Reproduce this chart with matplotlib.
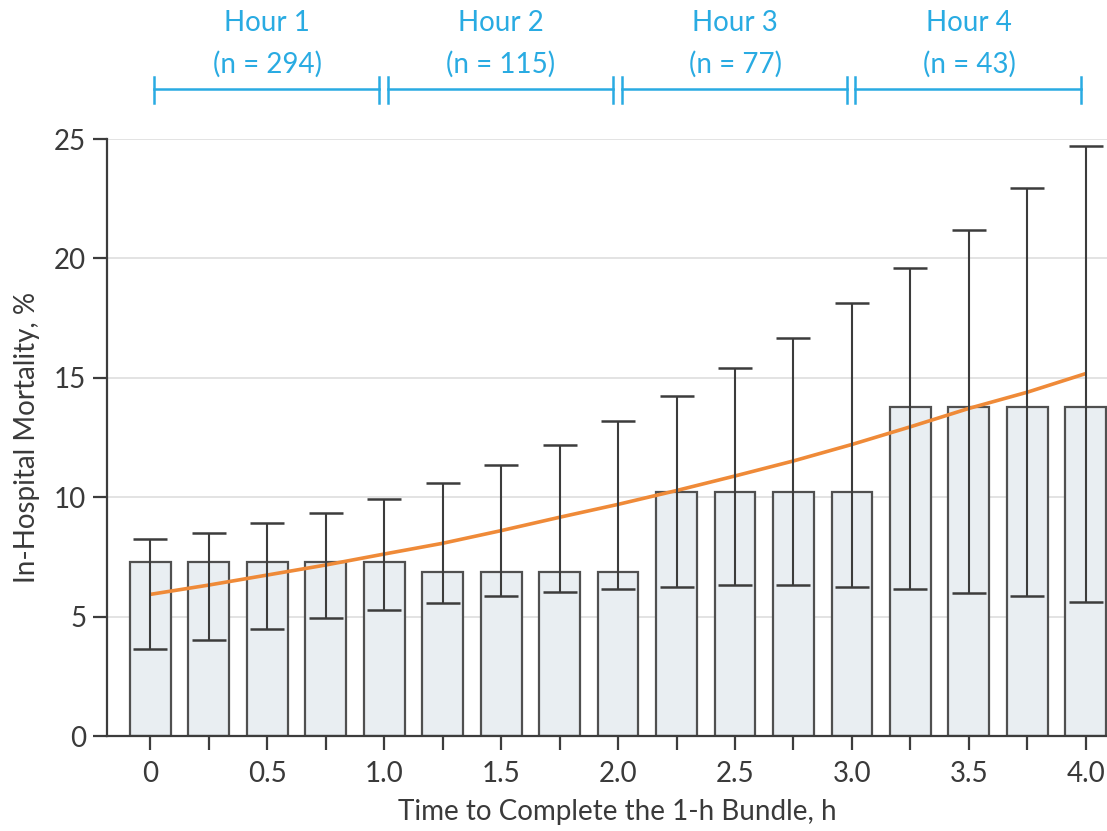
import matplotlib
matplotlib.use('Agg')
import matplotlib.pyplot as plt
import matplotlib.transforms as mtransforms
import numpy as np

plt.rcParams['font.family'] = ['Lato', 'DejaVu Sans']

# время выполнения пакета, ч
hours = [0, 0.25, 0.5, 0.75, 1.0, 1.25, 1.5, 1.75, 2.0,
         2.25, 2.5, 2.75, 3.0, 3.25, 3.5, 3.75, 4.0]
mortality = [7.3, 7.3, 7.3, 7.3, 7.3, 6.85, 6.85, 6.85, 6.85,
             10.22, 10.22, 10.22, 10.22, 13.79, 13.79, 13.79, 13.79]
fit = [5.93, 6.32, 6.74, 7.16, 7.62, 8.07, 8.6, 9.16, 9.7,
       10.28, 10.89, 11.52, 12.21, 12.95, 13.72, 14.4, 15.18]
ci_low = [3.65, 4.03, 4.49, 4.95, 5.28, 5.57, 5.88, 6.03, 6.17,
          6.25, 6.32, 6.32, 6.25, 6.17, 6.0, 5.88, 5.63]
ci_high = [8.23, 8.52, 8.9, 9.36, 9.92, 10.59, 11.35, 12.2, 13.18,
           14.25, 15.4, 16.68, 18.14, 19.59, 21.19, 22.94, 24.71]

hour_labels = ['Hour 1', 'Hour 2', 'Hour 3', 'Hour 4']
hour_n = [294, 115, 77, 43]

x_ticks = [0, 0.5, 1.0, 1.5, 2.0, 2.5, 3.0, 3.5, 4.0]
x_tick_labels = ['0', '0.5', '1.0', '1.5', '2.0', '2.5', '3.0', '3.5', '4.0']
y_ticks = [0, 5, 10, 15, 20, 25]

text_col = '#3a3a3a'
blue = '#29abe2'

fig = plt.figure(figsize=(11.07, 8.31), dpi=100)
ax = fig.add_axes([0.0967, 0.1143, 0.9033, 0.7184])

# сетка
for y in y_ticks[1:]:
    ax.axhline(y, color='#dedede', lw=1.2, zorder=0)

ax.bar(hours, mortality, width=0.175, color='#e9eef2', edgecolor='#505050',
       linewidth=1.6, zorder=2)

ax.plot(hours, fit, color='#ef8a38', lw=2.6, zorder=3, solid_capstyle='butt')

fit_a = np.array(fit)
yerr = [fit_a - np.array(ci_low), np.array(ci_high) - fit_a]
ax.errorbar(hours, fit, yerr=yerr, fmt='none', ecolor='#3c3c3c',
            elinewidth=1.5, capsize=12, capthick=1.8, zorder=4)

ax.set_xlim(-0.184, 4.09)
ax.set_ylim(0, 25)

ax.set_xticks(hours)
ax.set_xticklabels([x_tick_labels[x_ticks.index(h)] if h in x_ticks else '' for h in hours])
ax.set_yticks(y_ticks)

for s in ['top', 'right']:
    ax.spines[s].set_visible(False)
for s in ['left', 'bottom']:
    ax.spines[s].set_color('#3c3c3c')
    ax.spines[s].set_linewidth(1.6)

ax.tick_params(axis='both', direction='out', length=10, width=1.6,
               color='#3c3c3c', labelcolor=text_col, labelsize=20)
ax.tick_params(axis='x', pad=8)
ax.tick_params(axis='y', pad=5)

ax.set_ylabel('In-Hospital Mortality, %', fontsize=20, color=text_col)
ax.yaxis.set_label_coords(-0.067, 0.5)
ax.set_xlabel('Time to Complete the 1-h Bundle, h', fontsize=20, color=text_col)
ax.xaxis.set_label_coords(0.51, -0.106)

# скобки часов сверху
trans = mtransforms.blended_transform_factory(ax.transData, ax.transAxes)
for i, (lab, n) in enumerate(zip(hour_labels, hour_n)):
    x0 = i + 0.015
    x1 = i + 0.98
    ax.plot([x0, x1], [1.0838, 1.0838], color=blue, lw=1.8, transform=trans, clip_on=False)
    ax.plot([x0, x0], [1.0603, 1.1039], color=blue, lw=1.8, transform=trans, clip_on=False)
    ax.plot([x1, x1], [1.0603, 1.1039], color=blue, lw=1.8, transform=trans, clip_on=False)
    ax.text(i + 0.5, 1.195, lab, color=blue, fontsize=20, ha='center', va='center',
            transform=trans)
    ax.text(i + 0.5, 1.125, '(n = %d)' % n, color=blue, fontsize=20, ha='center',
            va='center', transform=trans)

fig.savefig('out.png', dpi=100)
